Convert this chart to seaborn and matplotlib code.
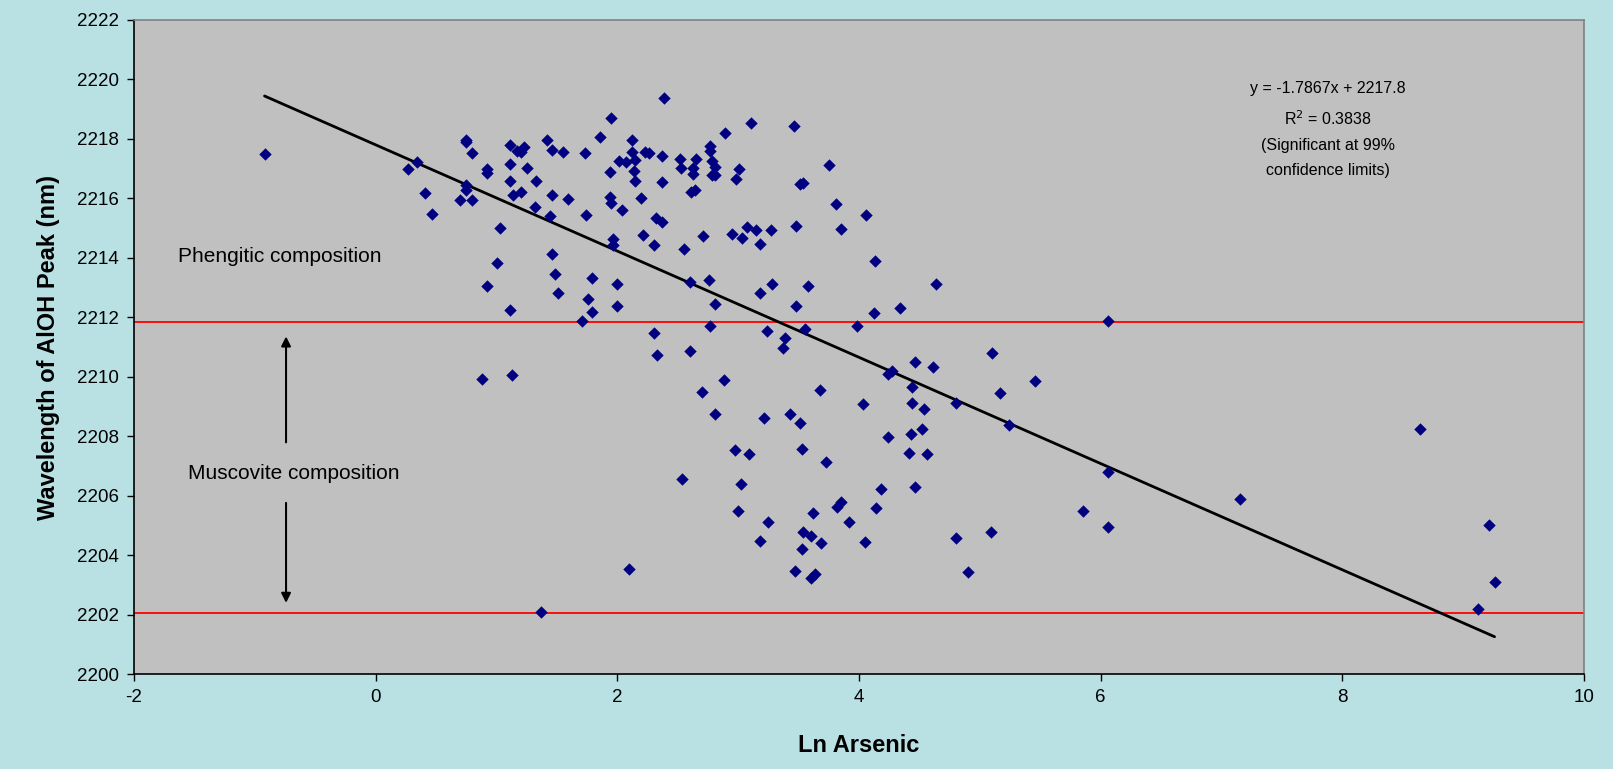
import numpy as np
import pandas as pd
import matplotlib
matplotlib.use("Agg")
import matplotlib.pyplot as plt
import seaborn as sns

# datos (Ln Arsenic vs longitud de onda AlOH)
ln_arsenic = [
    -0.92, 0.27, 0.34, 0.41, 0.47, 0.745, 0.745, 0.80, 0.745, 0.745,
    0.70, 0.80, 0.92, 0.92, 1.11, 1.17, 1.20, 1.23, 1.11, 1.255,
    1.11, 1.14, 1.20, 1.32, 1.33, 1.03, 1.00, 0.92, 1.11, 0.88,
    1.13, 2.39, 1.95, 3.105, 3.46, 2.89, 1.86, 1.415, 1.46, 1.55,
    1.73, 2.12, 2.12, 2.01, 2.07, 2.15, 2.23, 2.26, 2.37, 2.52,
    2.65, 2.77, 2.77, 2.78, 2.81, 2.78, 2.81, 2.53, 2.63, 2.63,
    3.01, 2.98, 1.46, 1.59, 1.94, 2.15, 2.14, 2.37, 1.94, 1.95,
    2.04, 2.195, 2.61, 2.64, 1.44, 1.74, 2.32, 2.37, 3.75, 3.54,
    3.51, 3.81, 3.855, 3.48, 3.07, 3.15, 3.27, 2.945, 3.03, 3.18,
    2.71, 2.55, 2.21, 2.30, 1.96, 1.96, 1.46, 1.48, 1.51, 1.79,
    1.76, 1.79, 1.71, 2.00, 2.00, 2.30, 2.33, 2.60, 2.76, 2.81,
    2.77, 2.60, 3.18, 3.28, 3.58, 3.475, 3.24, 3.39, 3.37, 3.55,
    3.98, 4.06, 4.13, 4.64, 4.34, 4.12, 6.06, 5.10, 4.46, 4.61,
    4.24, 4.275, 4.44, 4.035, 4.44, 4.535, 4.80, 5.17, 5.46, 5.24,
    4.52, 4.43, 4.24, 4.41, 4.56, 6.06, 4.18, 4.46, 4.14, 3.92,
    4.05, 4.80, 5.09, 4.90, 5.85, 6.06, 2.885, 2.70, 2.81, 3.68,
    3.21, 3.43, 3.51, 3.53, 3.73, 2.97, 3.09, 2.535, 3.02, 3.00,
    3.25, 3.18, 3.62, 3.815, 3.85, 3.54, 3.60, 3.685, 3.53, 3.47,
    3.60, 3.635, 2.10, 1.37, 7.15, 8.64, 9.21, 9.26, 9.12,
]
wavelength = [
    2217.49, 2216.98, 2217.22, 2216.17, 2215.48, 2217.97, 2217.89, 2217.51, 2216.46, 2216.27,
    2215.93, 2215.96, 2217.00, 2216.85, 2217.78, 2217.61, 2217.56, 2217.72, 2217.16, 2217.03,
    2216.60, 2216.13, 2216.22, 2215.70, 2216.57, 2214.99, 2213.81, 2213.04, 2212.23, 2209.93,
    2210.05, 2219.38, 2218.72, 2218.54, 2218.42, 2218.21, 2218.07, 2217.98, 2217.63, 2217.56,
    2217.51, 2217.98, 2217.57, 2217.25, 2217.21, 2217.30, 2217.56, 2217.51, 2217.43, 2217.31,
    2217.34, 2217.76, 2217.58, 2217.27, 2217.07, 2216.79, 2216.77, 2217.03, 2217.03, 2216.83,
    2217.00, 2216.65, 2216.13, 2215.97, 2216.89, 2216.60, 2216.91, 2216.56, 2216.04, 2215.86,
    2215.62, 2216.02, 2216.23, 2216.27, 2215.41, 2215.45, 2215.33, 2215.22, 2217.13, 2216.52,
    2216.47, 2215.81, 2214.98, 2215.06, 2215.03, 2214.92, 2214.93, 2214.81, 2214.68, 2214.46,
    2214.72, 2214.29, 2214.77, 2214.44, 2214.65, 2214.43, 2214.12, 2213.47, 2212.82, 2213.33,
    2212.60, 2212.17, 2211.87, 2213.11, 2212.39, 2211.48, 2210.72, 2213.19, 2213.25, 2212.43,
    2211.72, 2210.85, 2212.82, 2213.13, 2213.04, 2212.39, 2211.53, 2211.31, 2210.98, 2211.59,
    2211.70, 2215.43, 2213.89, 2213.13, 2212.30, 2212.13, 2211.87, 2210.79, 2210.49, 2210.32,
    2210.08, 2210.19, 2209.67, 2209.07, 2209.11, 2208.90, 2209.11, 2209.46, 2209.85, 2208.39,
    2208.25, 2208.08, 2207.96, 2207.43, 2207.39, 2206.78, 2206.22, 2206.28, 2205.59, 2205.12,
    2204.43, 2204.56, 2204.79, 2203.44, 2205.50, 2204.94, 2209.90, 2209.50, 2208.76, 2209.55,
    2208.60, 2208.76, 2208.46, 2207.56, 2207.13, 2207.52, 2207.39, 2206.57, 2206.40, 2205.47,
    2205.11, 2204.47, 2205.42, 2205.61, 2205.78, 2204.77, 2204.64, 2204.42, 2204.21, 2203.48,
    2203.24, 2203.35, 2203.53, 2202.08, 2205.88, 2208.25, 2205.02, 2203.08, 2202.18,
]

# recta de tendencia (ecuacion del grafico)
pendiente = -1.7867
intercepto = 2217.8

# limites de composicion
limite_fengitico = 2211.85
limite_inferior = 2202.05

x_ticks = [-2, 0, 2, 4, 6, 8, 10]
y_ticks = list(range(2200, 2223, 2))

df = pd.DataFrame({"ln_as": ln_arsenic, "wl": wavelength})

sns.set_style("white")
plt.rcParams["font.family"] = ["Liberation Sans", "DejaVu Sans"]
plt.rcParams["axes.unicode_minus"] = False
plt.rcParams["text.color"] = "black"
plt.rcParams["axes.labelcolor"] = "black"
plt.rcParams["xtick.color"] = "black"
plt.rcParams["ytick.color"] = "black"

fondo = "#B9E0E3"
fig = plt.figure(figsize=(16.13, 7.69), dpi=100, facecolor=fondo)
ax = fig.add_axes([0.0831, 0.1235, 0.8989, 0.8505])
ax.set_facecolor("#C0C0C0")

# lineas rojas
ax.axhline(limite_fengitico, color="#FF0000", linewidth=1.3, zorder=1)
ax.axhline(limite_inferior, color="#FF0000", linewidth=1.3, zorder=1)

# puntos
sns.scatterplot(data=df, x="ln_as", y="wl", marker="D", s=40,
                color="#000080", edgecolor="#000080", linewidth=0,
                ax=ax, zorder=3)

# linea de tendencia
x_lin = np.array([df["ln_as"].min(), df["ln_as"].max()])
ax.plot(x_lin, pendiente * x_lin + intercepto, color="black", linewidth=2.0, zorder=2)

ax.set_xlim(-2, 10)
ax.set_ylim(2200, 2222)
ax.set_xticks(x_ticks)
ax.set_yticks(y_ticks)
ax.tick_params(axis="both", direction="out", length=5, width=1, colors="black",
               labelsize=13.5, pad=6, bottom=True, left=True)

for lado in ["top", "right"]:
    ax.spines[lado].set_color("#808080")
    ax.spines[lado].set_linewidth(1.2)
for lado in ["left", "bottom"]:
    ax.spines[lado].set_color("black")
    ax.spines[lado].set_linewidth(1.2)

ax.set_xlabel("Ln Arsenic", fontsize=17, fontweight="bold", labelpad=20)
ax.set_ylabel("Wavelength of AlOH Peak (nm)", fontsize=17, fontweight="bold", labelpad=12)

# textos de composicion
ax.text(-1.64, 2214.03, "Phengitic composition", fontsize=15, va="center", ha="left")
ax.text(-1.55, 2206.73, "Muscovite composition", fontsize=15, va="center", ha="left")

# flechas
ax.annotate("", xy=(-0.742, 2211.45), xytext=(-0.742, 2207.7),
            arrowprops=dict(arrowstyle="-|>", color="black", lw=1.5, mutation_scale=14))
ax.annotate("", xy=(-0.742, 2202.3), xytext=(-0.742, 2205.85),
            arrowprops=dict(arrowstyle="-|>", color="black", lw=1.5, mutation_scale=14))

# ecuacion
x_eq = 7.88
ax.text(x_eq, 2219.68, "y = -1.7867x + 2217.8", fontsize=11.5, ha="center", va="center")
ax.text(x_eq, 2218.68, "R$^2$ = 0.3838", fontsize=11.5, ha="center", va="center")
ax.text(x_eq, 2217.79, "(Significant at 99%", fontsize=11.5, ha="center", va="center")
ax.text(x_eq, 2216.95, "confidence limits)", fontsize=11.5, ha="center", va="center")

plt.savefig("out.png", dpi=100, facecolor=fondo)
